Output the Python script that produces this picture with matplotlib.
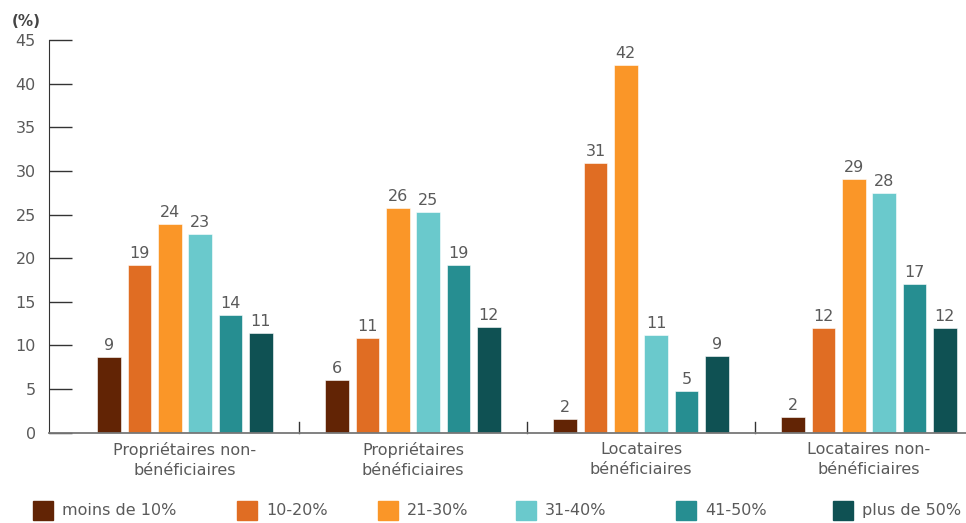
import numpy as np
import matplotlib
matplotlib.use('Agg')
import matplotlib.pyplot as plt
from matplotlib.patches import Rectangle

categories = ['Propriétaires non-\nbénéficiaires', 'Propriétaires\nbénéficiaires',
              'Locataires\nbénéficiaires', 'Locataires non-\nbénéficiaires']
series_names = ['moins de 10%', '10-20%', '21-30%', '31-40%', '41-50%', 'plus de 50%']
colors = ['#622405', '#E06D23', '#FA9628', '#6AC9CC', '#268E91', '#0F5153']

# bar heights (one list per category)
prop_non_benef = [8.7, 19.2, 23.9, 22.8, 13.5, 11.4]
prop_benef = [6.0, 10.9, 25.8, 25.3, 19.2, 12.1]
loc_benef = [1.6, 30.9, 42.1, 11.2, 4.8, 8.8]
loc_non_benef = [1.8, 12.0, 29.1, 27.5, 17.0, 12.0]

# labels as printed above the bars
labels_prop_non_benef = [9, 19, 24, 23, 14, 11]
labels_prop_benef = [6, 11, 26, 25, 19, 12]
labels_loc_benef = [2, 31, 42, 11, 5, 9]
labels_loc_non_benef = [2, 12, 29, 28, 17, 12]

values = np.array([prop_non_benef, prop_benef, loc_benef, loc_non_benef])
labels = np.array([labels_prop_non_benef, labels_prop_benef, labels_loc_benef, labels_loc_non_benef])

text_col = '#5a5a5a'
plt.rcParams['font.family'] = ['DejaVu Sans']

W, H = 966, 523
fig = plt.figure(figsize=(W / 100, H / 100), dpi=100)
ax = fig.add_axes([49 / W, (H - 432.7) / H, 1 - 49 / W, (432.7 - 40) / H])

x = np.arange(len(categories))
width = 0.105
step = 0.133
for k, name in enumerate(series_names):
    pos = x + (k - 2.5) * step
    bars = ax.bar(pos, values[:, k], width, color=colors[k], label=name,
                  edgecolor='white', linewidth=0.4)
    for b, lab in zip(bars, labels[:, k]):
        ax.text(b.get_x() + b.get_width() / 2, b.get_height() + 0.45, str(lab),
                ha='center', va='bottom', fontsize=11.5, color=text_col)

ax.set_xlim(-0.5965, 3.4254)
ax.set_ylim(0, 45)
ax.set_yticks(np.arange(0, 50, 5))
ax.tick_params(axis='y', direction='in', length=16.5, width=1, color='#333333',
               labelsize=11.5, labelcolor=text_col, pad=9.5)
ax.set_xticks(x)
ax.set_xticklabels(categories, fontsize=11.5, color=text_col, linespacing=1.35)
ax.tick_params(axis='x', length=0, pad=7)
# small separators between groups
for b in x[:-1] + 0.5:
    ax.plot([b, b], [0, 1.2], color='#333333', lw=1, clip_on=False)

for s in ['top', 'right']:
    ax.spines[s].set_visible(False)
ax.spines['left'].set_color('#333333')
ax.spines['bottom'].set_color('#777777')
ax.spines['bottom'].set_linewidth(1.3)

fig.text(12 / W, 1 - 22 / H, '(%)', fontsize=11, fontweight='bold', color='#444444',
         va='center', ha='left')

# legend laid out by hand to match the uneven spacing
legend_x = [33, 237, 378, 516, 676, 833]
for lx, name, c in zip(legend_x, series_names, colors):
    fig.patches.append(Rectangle((lx / W, 3 / H), 20 / W, 19 / H, color=c,
                                 transform=fig.transFigure, figure=fig))
    fig.text((lx + 29) / W, 12.5 / H, name, fontsize=11.5, color=text_col,
             va='center', ha='left')

fig.savefig('out.png', dpi=100)
